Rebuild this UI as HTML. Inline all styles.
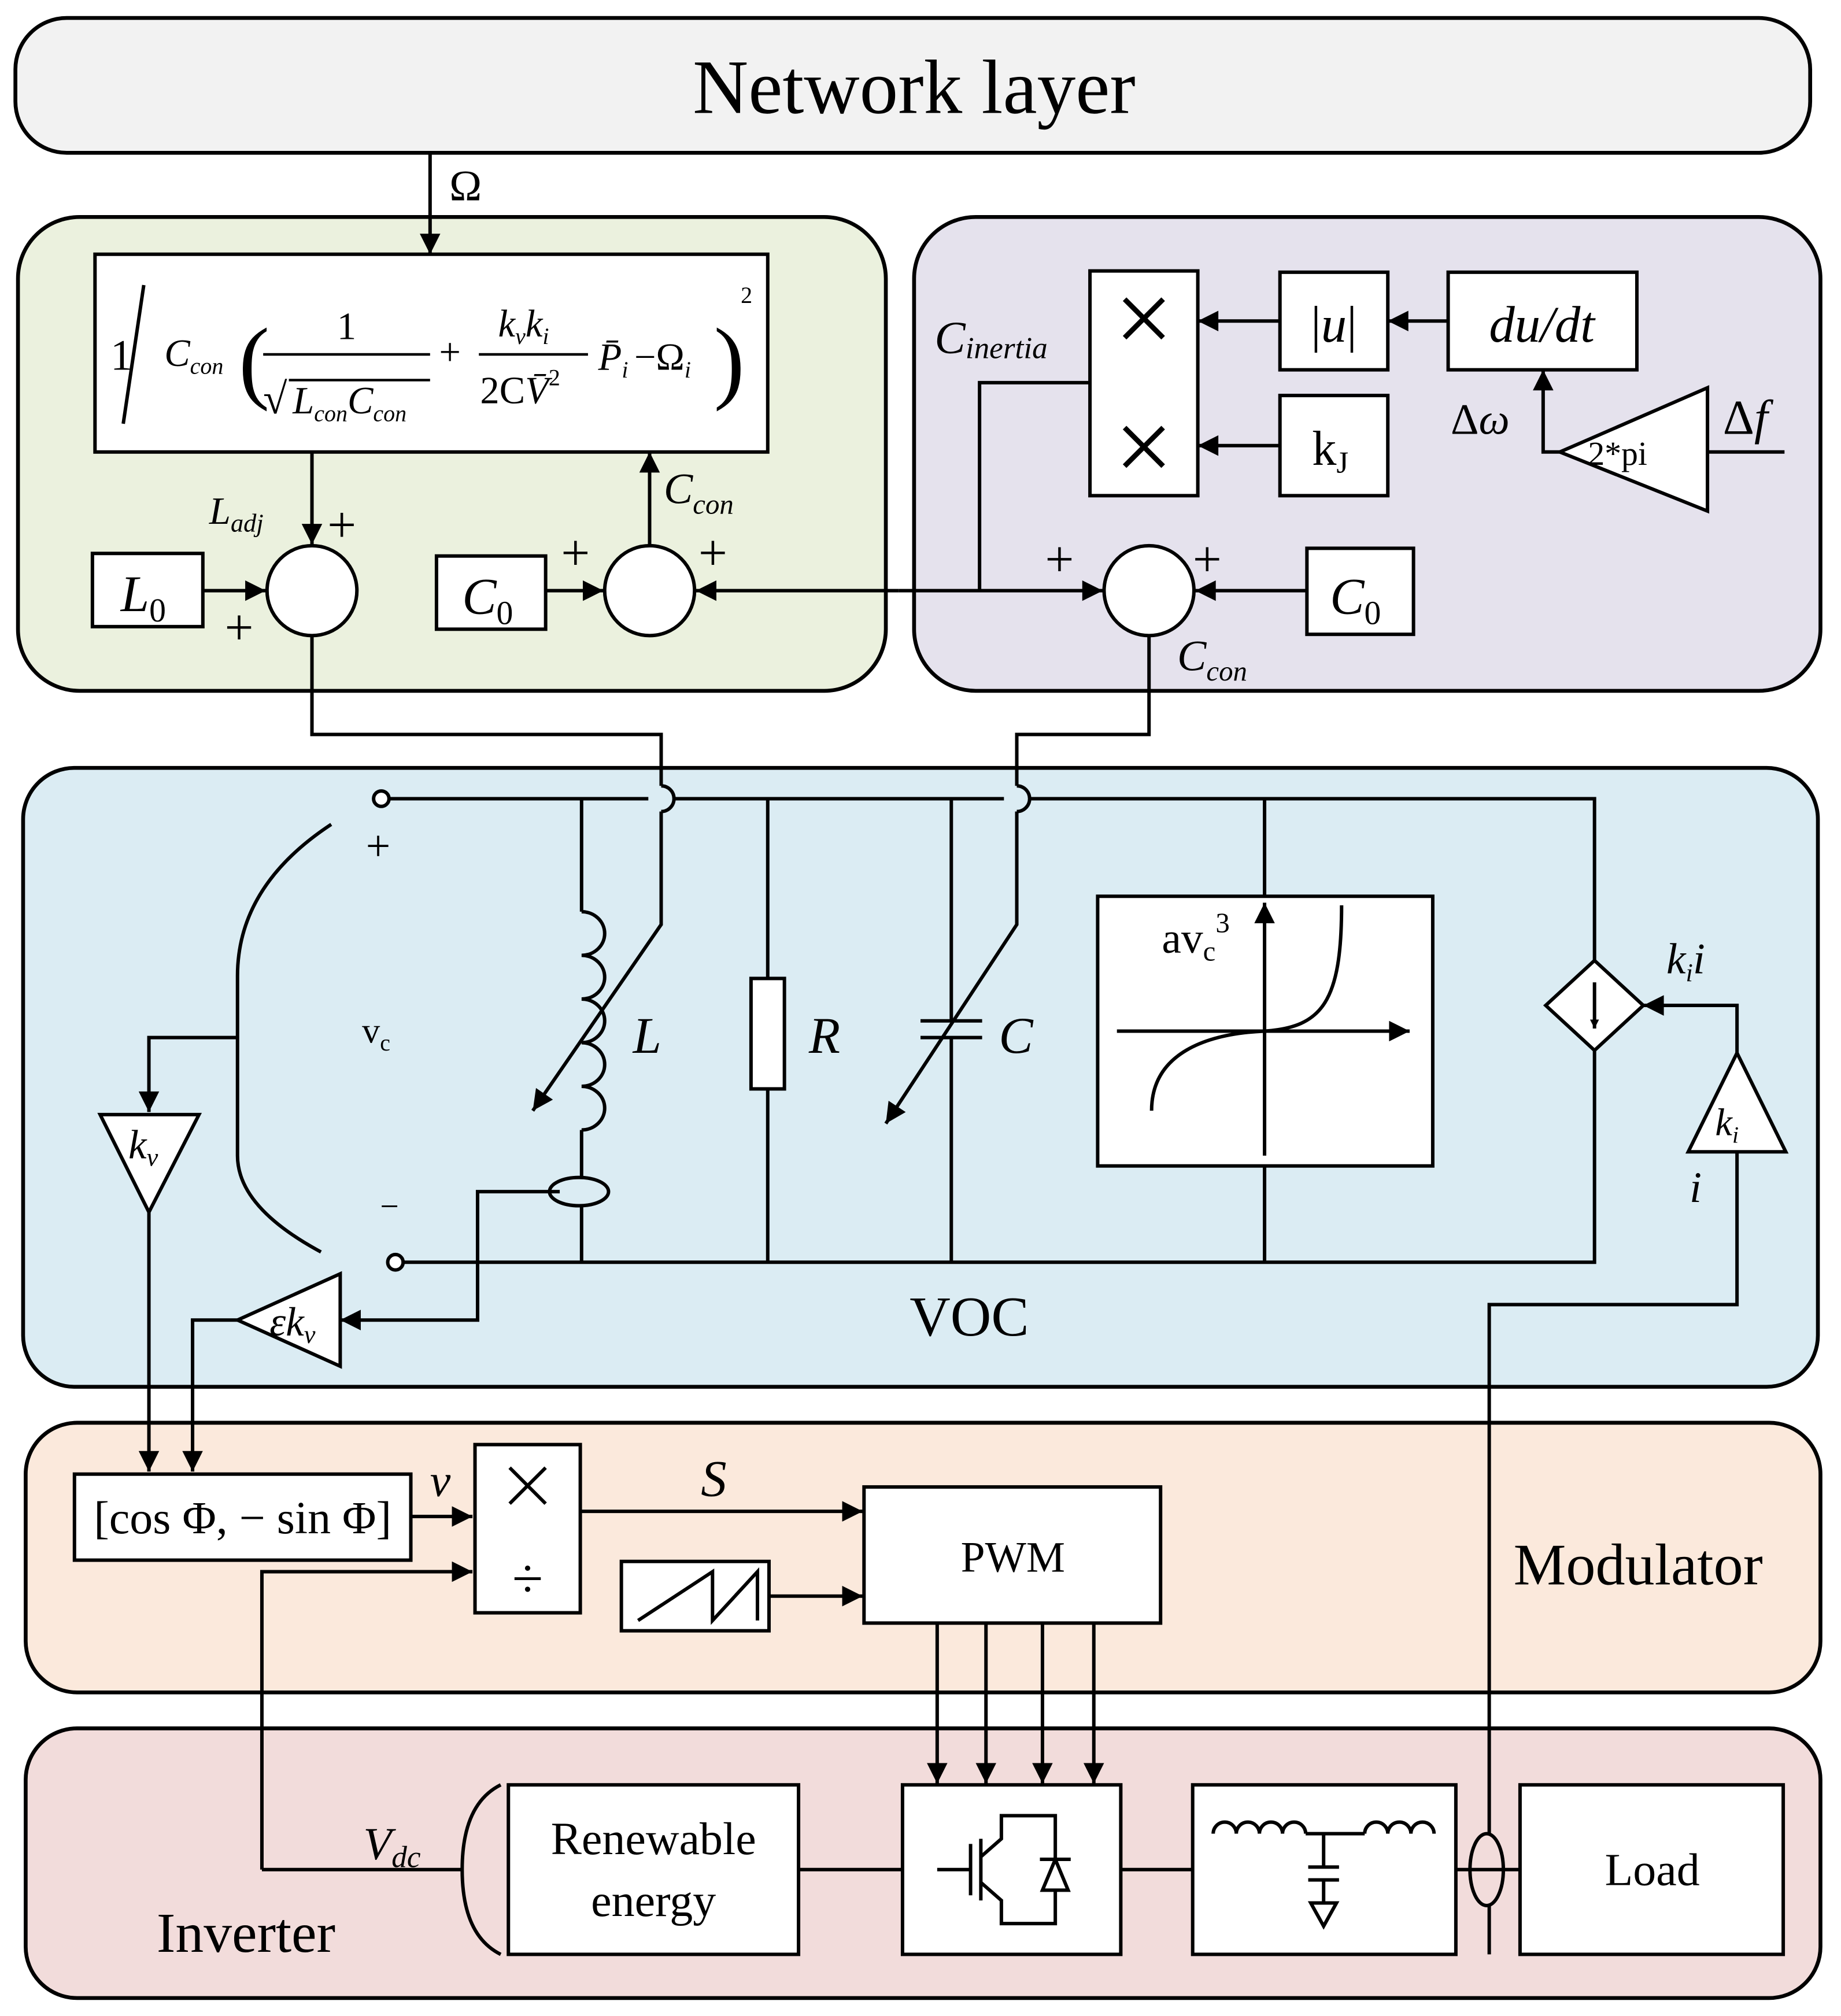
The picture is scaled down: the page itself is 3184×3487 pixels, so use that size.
<!DOCTYPE html>
<html><head><meta charset="utf-8"><style>
html,body{margin:0;padding:0;background:#fff}
svg{display:block}
text{font-family:"Liberation Serif",serif;fill:#000}
</style></head><body>
<svg width="3184" height="3487" viewBox="0 0 1434 1570" preserveAspectRatio="none" xmlns="http://www.w3.org/2000/svg">
<defs>
<marker id="a" viewBox="0 0 10 10" refX="10" refY="5" markerWidth="7" markerHeight="7" orient="auto" markerUnits="userSpaceOnUse"><path d="M0,0 L10,5 L0,10 z" fill="#000"/></marker>
<marker id="b" viewBox="0 0 10 10" refX="10" refY="5" markerWidth="24" markerHeight="16" orient="auto" markerUnits="userSpaceOnUse"><path d="M0,0 L10,5 L0,10 z" fill="#000"/></marker>
</defs>
<g stroke="#000" stroke-width="3">
<rect x="12" y="14" width="1398" height="105" rx="40" fill="#f2f2f2"/>
<rect x="14" y="169" width="676" height="369" rx="48" fill="#ebf1de"/>
<rect x="712" y="169" width="706" height="369" rx="48" fill="#e5e2ed"/>
<rect x="18" y="598" width="1398" height="482" rx="40" fill="#dbecf3"/>
<rect x="20" y="1108" width="1398" height="210" rx="40" fill="#fbe9dc"/>
<rect x="20" y="1346" width="1398" height="210" rx="40" fill="#f2dcdb"/>
</g>
<text x="712" y="88" font-size="60" text-anchor="middle">Network layer</text>
<g stroke="#000" stroke-width="2.7" fill="none">
<line x1="335" y1="119" x2="335" y2="198" marker-end="url(#b)"/>
<rect x="74" y="198" width="524" height="154" fill="#fff"/>
<line x1="112" y1="222" x2="96" y2="330"/>
<circle cx="243" cy="460" r="35" fill="#fff"/>
<circle cx="506" cy="460" r="35" fill="#fff"/>
<circle cx="895" cy="460" r="35" fill="#fff"/>
<rect x="72" y="431" width="86" height="57" fill="#fff"/>
<rect x="340" y="433" width="85" height="57" fill="#fff"/>
<rect x="1018" y="427" width="83" height="67" fill="#fff"/>
<rect x="849" y="211" width="84" height="175" fill="#fff"/>
<rect x="997" y="212" width="84" height="76" fill="#fff"/>
<rect x="997" y="308" width="84" height="78" fill="#fff"/>
<rect x="1128" y="212" width="147" height="76" fill="#fff"/>
<polygon points="1330,302 1330,398 1215,352" fill="#fff"/>
<g stroke-width="4">
<line x1="876" y1="233" x2="906" y2="263"/><line x1="906" y1="233" x2="876" y2="263"/>
<line x1="876" y1="333" x2="906" y2="363"/><line x1="906" y1="333" x2="876" y2="363"/>
</g>
<line x1="243" y1="352" x2="243" y2="424" marker-end="url(#b)"/>
<line x1="506" y1="424" x2="506" y2="352" marker-end="url(#b)"/>
<line x1="158" y1="460" x2="207" y2="460" marker-end="url(#b)"/>
<line x1="425" y1="460" x2="470" y2="460" marker-end="url(#b)"/>
<line x1="700" y1="460" x2="542" y2="460" marker-end="url(#b)"/>
<line x1="700" y1="460" x2="859" y2="460" marker-end="url(#b)"/>
<line x1="1018" y1="460" x2="931" y2="460" marker-end="url(#b)"/>
<polyline points="763,460 763,298 849,298"/>
<line x1="997" y1="250" x2="933" y2="250" marker-end="url(#b)"/>
<line x1="997" y1="347" x2="933" y2="347" marker-end="url(#b)"/>
<line x1="1128" y1="250" x2="1081" y2="250" marker-end="url(#b)"/>
<polyline points="1390,352 1330,352"/>
<polyline points="1215,352 1202,352 1202,288" marker-end="url(#b)"/>
<polyline points="243,495 243,572 515,572 515,612"/>
<path d="M515,612 A10,10 0 0 1 515,632"/>
<polyline points="515,632 515,720 415,865" marker-end="url(#b)"/>
<polyline points="895,495 895,572 792,572 792,612"/>
<path d="M792,612 A10,10 0 0 1 792,632"/>
<polyline points="792,632 792,720 690,875" marker-end="url(#b)"/>
<line x1="303" y1="622" x2="505" y2="622"/>
<line x1="525" y1="622" x2="782" y2="622"/>
<polyline points="802,622 1242,622 1242,748"/>
<polyline points="1242,818 1242,983 314,983"/>
<circle cx="297" cy="622" r="6" fill="#fff"/>
<circle cx="308" cy="983" r="6" fill="#fff"/>
<path d="M258,642 Q185,690 185,760 L185,900 Q185,940 250,975"/>
<polyline points="185,808 116,808 116,866" marker-end="url(#b)"/>
<polygon points="78,868 155,868 116,944" fill="#fff"/>
<polyline points="116,944 116,1146" marker-end="url(#b)"/>
<polygon points="265,992 265,1064 185,1028" fill="#fff"/>
<polyline points="185,1028 150,1028 150,1146" marker-end="url(#b)"/>
<polyline points="436,928 372,928 372,1028 265,1028" marker-end="url(#b)"/>
<ellipse cx="451" cy="928" rx="23" ry="11"/>
<line x1="453" y1="622" x2="453" y2="710"/>
<path d="M453,710 a18,17 0 0 1 0,34 a18,17 0 0 1 0,34 a18,17 0 0 1 0,34 a18,17 0 0 1 0,34 a18,17 0 0 1 0,34"/>
<line x1="453" y1="880" x2="453" y2="917"/>
<line x1="453" y1="939" x2="453" y2="983"/>
<line x1="598" y1="622" x2="598" y2="762"/>
<rect x="585" y="762" width="26" height="86" fill="#fff"/>
<line x1="598" y1="848" x2="598" y2="983"/>
<line x1="741" y1="622" x2="741" y2="795"/>
<line x1="717" y1="795" x2="765" y2="795"/>
<line x1="717" y1="808" x2="765" y2="808"/>
<line x1="741" y1="808" x2="741" y2="983"/>
<line x1="985" y1="622" x2="985" y2="698"/>
<line x1="985" y1="908" x2="985" y2="983"/>
<rect x="855" y="698" width="261" height="210" fill="#fff"/>
<line x1="870" y1="803" x2="1098" y2="803" marker-end="url(#b)"/>
<line x1="985" y1="900" x2="985" y2="703" marker-end="url(#b)"/>
<path d="M897,865 C897,820 940,805 985,803 C1030,800 1045,780 1045,705"/>
<polygon points="1242,748 1280,783 1242,818 1204,783" fill="#fff"/>
<line x1="1242" y1="765" x2="1242" y2="801" marker-end="url(#a)"/>
<polygon points="1353,820 1315,897 1391,897" fill="#fff"/>
<polyline points="1353,820 1353,783 1280,783" marker-end="url(#b)"/>
<polyline points="1353,897 1353,1016 1160,1016 1160,1428"/>
<line x1="1160" y1="1484" x2="1160" y2="1522"/>
<rect x="58" y="1148" width="262" height="67" fill="#fff"/>
<rect x="370" y="1125" width="82" height="131" fill="#fff"/>
<rect x="673" y="1158" width="231" height="106" fill="#fff"/>
<rect x="484" y="1216" width="115" height="54" fill="#fff"/>
<polyline points="497,1262 555,1224 555,1262 590,1224 590,1262"/>
<line x1="320" y1="1181" x2="368" y2="1181" marker-end="url(#b)"/>
<polyline points="204,1456 204,1224 368,1224" marker-end="url(#b)"/>
<line x1="452" y1="1177" x2="672" y2="1177" marker-end="url(#b)"/>
<line x1="599" y1="1243" x2="672" y2="1243" marker-end="url(#b)"/>
<line x1="730" y1="1264" x2="730" y2="1389" marker-end="url(#b)"/>
<line x1="768" y1="1264" x2="768" y2="1389" marker-end="url(#b)"/>
<line x1="812" y1="1264" x2="812" y2="1389" marker-end="url(#b)"/>
<line x1="852" y1="1264" x2="852" y2="1389" marker-end="url(#b)"/>
<line x1="397" y1="1143" x2="425" y2="1171"/>
<line x1="425" y1="1143" x2="397" y2="1171"/>
<rect x="396" y="1390" width="226" height="132" fill="#fff"/>
<rect x="703" y="1390" width="170" height="132" fill="#fff"/>
<rect x="929" y="1390" width="205" height="132" fill="#fff"/>
<rect x="1184" y="1390" width="205" height="132" fill="#fff"/>
<line x1="204" y1="1456" x2="360" y2="1456"/>
<path d="M390,1390 Q360,1405 360,1456 Q360,1507 390,1522"/>
<line x1="622" y1="1456" x2="703" y2="1456"/>
<line x1="873" y1="1456" x2="929" y2="1456"/>
<line x1="1134" y1="1456" x2="1184" y2="1456"/>
<ellipse cx="1158" cy="1456" rx="13" ry="28"/>
<line x1="730" y1="1456" x2="756" y2="1456"/>
<line x1="756" y1="1436" x2="756" y2="1476"/>
<line x1="764" y1="1432" x2="764" y2="1480"/>
<polyline points="764,1446 780,1432 780,1414 822,1414 822,1498 780,1498 780,1480 764,1466"/>
<polygon points="812,1472 832,1472 822,1448" fill="#fff"/>
<line x1="810" y1="1448" x2="834" y2="1448"/>
<path d="M945,1428 a9,9 0 0 1 18,0 a9,9 0 0 1 18,0 a9,9 0 0 1 18,0 a9,9 0 0 1 18,0"/>
<path d="M1063,1428 a9,9 0 0 1 18,0 a9,9 0 0 1 18,0 a9,9 0 0 1 18,0"/>
<line x1="1017" y1="1428" x2="1063" y2="1428"/>
<line x1="1031" y1="1428" x2="1031" y2="1454"/>
<line x1="1019" y1="1454" x2="1043" y2="1454"/>
<line x1="1019" y1="1464" x2="1043" y2="1464"/>
<line x1="1031" y1="1464" x2="1031" y2="1482"/>
<polygon points="1021,1482 1041,1482 1031,1500" fill="#fff"/>
</g>
<g font-size="30">
<text x="350" y="156" font-size="34">Ω</text>
<text x="86" y="288" font-size="34">1</text>
<text x="128" y="285" font-style="italic">C<tspan font-size="18" dy="6">con</tspan></text>
<text x="186" y="305" font-size="72">(</text>
<text x="270" y="264" text-anchor="middle">1</text>
<line x1="205" y1="276" x2="335" y2="276" stroke="#000" stroke-width="2"/>
<text x="205" y="322" font-size="34">√</text>
<line x1="225" y1="296" x2="335" y2="296" stroke="#000" stroke-width="2"/>
<text x="228" y="322" font-style="italic">L<tspan font-size="18" dy="6">con</tspan><tspan dy="-6">C</tspan><tspan font-size="18" dy="6">con</tspan></text>
<text x="342" y="284">+</text>
<text x="388" y="262" font-style="italic">k<tspan font-size="18" dy="6">v</tspan><tspan dy="-6">k</tspan><tspan font-size="18" dy="6">i</tspan></text>
<line x1="373" y1="276" x2="458" y2="276" stroke="#000" stroke-width="2"/>
<text x="374" y="314">2C<tspan font-style="italic">V̄</tspan><tspan font-size="18" dy="-14">2</tspan></text>
<text x="466" y="288" font-style="italic">P̄<tspan font-size="18" dy="6">i</tspan></text>
<text x="494" y="288">−Ω<tspan font-size="18" dy="6" font-style="italic">i</tspan></text>
<text x="556" y="305" font-size="72">)</text>
<text x="577" y="236" font-size="18">2</text>
<text x="163" y="408" font-style="italic">L<tspan font-size="20" dy="6">adj</tspan></text>
<text x="255" y="422" font-size="40">+</text>
<text x="175" y="502" font-size="40">+</text>
<text x="437" y="444" font-size="40">+</text>
<text x="544" y="444" font-size="40">+</text>
<text x="814" y="449" font-size="40">+</text>
<text x="929" y="449" font-size="40">+</text>
<text x="517" y="392" font-style="italic" font-size="34">C<tspan font-size="22" dy="8">con</tspan></text>
<text x="917" y="522" font-style="italic" font-size="34">C<tspan font-size="22" dy="8">con</tspan></text>
<text x="728" y="275" font-style="italic" font-size="36">C<tspan font-size="24" dy="4">inertia</tspan></text>
<text x="94" y="476" font-size="40" font-style="italic">L<tspan font-size="26" dy="8" font-style="normal">0</tspan></text>
<text x="360" y="478" font-size="40" font-style="italic">C<tspan font-size="26" dy="8" font-style="normal">0</tspan></text>
<text x="1036" y="478" font-size="40" font-style="italic">C<tspan font-size="26" dy="8" font-style="normal">0</tspan></text>
<text x="1039" y="266" font-size="40" text-anchor="middle">|<tspan font-style="italic">u</tspan>|</text>
<text x="1022" y="362" font-size="38">k<tspan font-size="24" dy="6">J</tspan></text>
<text x="1201" y="266" font-size="40" text-anchor="middle" font-style="italic">du/dt</text>
<text x="1260" y="362" font-size="26" text-anchor="middle">2*pi</text>
<text x="1130" y="338" font-size="34">Δ<tspan font-style="italic">ω</tspan></text>
<text x="1342" y="338" font-size="38">Δ<tspan font-style="italic">f</tspan></text>
<text x="285" y="670" font-size="34">+</text>
<text x="296" y="948" font-size="26">−</text>
<text x="282" y="812" font-size="28">v<tspan font-size="18" dy="6">c</tspan></text>
<text x="493" y="820" font-size="40" font-style="italic">L</text>
<text x="630" y="820" font-size="40" font-style="italic">R</text>
<text x="778" y="820" font-size="40" font-style="italic">C</text>
<text x="905" y="742" font-size="34">av<tspan font-size="22" dy="6">c</tspan><tspan font-size="22" dy="-22">3</tspan></text>
<text x="1298" y="758" font-size="34" font-style="italic">k<tspan font-size="20" dy="6">i</tspan><tspan dy="-6">i</tspan></text>
<text x="1316" y="936" font-size="34" font-style="italic">i</text>
<text x="100" y="902" font-size="32" font-style="italic">k<tspan font-size="20" dy="6">v</tspan></text>
<text x="1336" y="884" font-size="30" font-style="italic">k<tspan font-size="18" dy="6">i</tspan></text>
<text x="210" y="1040" font-size="32" font-style="italic">εk<tspan font-size="20" dy="6">v</tspan></text>
<text x="755" y="1040" font-size="44" text-anchor="middle">VOC</text>
<text x="189" y="1194" font-size="36" text-anchor="middle">[cos Φ, − sin Φ]</text>
<text x="335" y="1165" font-size="36" font-style="italic">v</text>
<text x="411" y="1244" font-size="44" text-anchor="middle">÷</text>
<text x="546" y="1165" font-size="40" font-style="italic">S</text>
<text x="789" y="1224" font-size="34" text-anchor="middle">PWM</text>
<text x="1276" y="1234" font-size="46" text-anchor="middle">Modulator</text>
<text x="509" y="1444" font-size="36" text-anchor="middle">Renewable</text>
<text x="509" y="1492" font-size="36" text-anchor="middle">energy</text>
<text x="1287" y="1468" font-size="36" text-anchor="middle">Load</text>
<text x="283" y="1448" font-size="36" font-style="italic">V<tspan font-size="24" dy="6">dc</tspan></text>
<text x="122" y="1520" font-size="44">Inverter</text>
</g>
</svg>
</body></html>
